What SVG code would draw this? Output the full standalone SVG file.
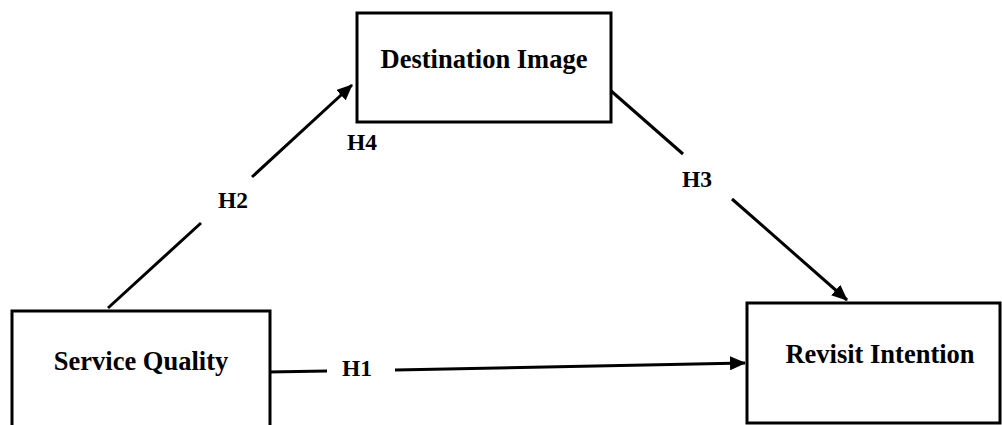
<svg xmlns="http://www.w3.org/2000/svg" width="1002" height="425" viewBox="0 0 1002 425">
<style>
.box{fill:#fff;stroke:#000;stroke-width:3}
.node{font-family:"Liberation Serif","Times New Roman",serif;font-weight:bold;font-size:26.5px;fill:#000;text-anchor:middle}
.lab{font-family:"Liberation Serif","Times New Roman",serif;font-weight:bold;font-size:23.5px;fill:#000;text-anchor:middle}
.conn{stroke:#000;stroke-width:3;fill:none}
</style>
<defs>
<marker id="arr" markerUnits="userSpaceOnUse" markerWidth="16" markerHeight="14" refX="15" refY="7" orient="auto">
<path d="M0,0 L16,7 L0,14 Z" fill="#000"/>
</marker>
</defs>
<rect width="1002" height="425" fill="#fff"/>
<g id="connectors">
<line class="conn" x1="268" y1="372" x2="327" y2="371"/>
<line class="conn" x1="395" y1="370" x2="745" y2="363" marker-end="url(#arr)"/>
<line class="conn" x1="108" y1="308" x2="201" y2="223"/>
<line class="conn" x1="252" y1="177" x2="352" y2="85" marker-end="url(#arr)"/>
<line class="conn" x1="610" y1="90" x2="683" y2="154"/>
<line class="conn" x1="732" y1="199" x2="847" y2="300" marker-end="url(#arr)"/>
<text class="lab" x="357" y="376">H1</text>
<text class="lab" x="233" y="208">H2</text>
<text class="lab" x="697" y="187">H3</text>
<text class="lab" x="362" y="150">H4</text>
</g>
<g id="destination-image">
<rect class="box" x="357" y="13" width="254" height="109"/>
<text class="node" x="484" y="68">Destination Image</text>
</g>
<g id="service-quality">
<rect class="box" x="12" y="311" width="258" height="130"/>
<text class="node" x="141" y="370">Service Quality</text>
</g>
<g id="revisit-intention">
<rect class="box" x="747" y="303" width="253" height="120"/>
<text class="node" x="880" y="363">Revisit Intention</text>
</g>
</svg>
